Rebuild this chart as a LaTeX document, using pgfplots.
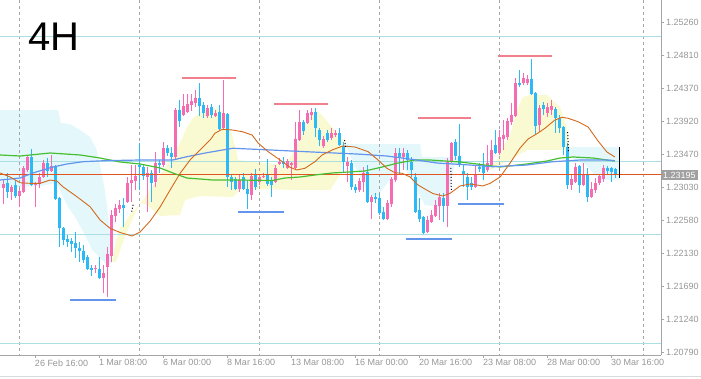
\documentclass[border=0pt]{standalone}
\usepackage{fontspec}
\setmainfont{Liberation Sans}
\usepackage{pgfplots}
\usepackage{pgfplotstable}
\pgfplotsset{compat=1.18}

\definecolor{bull}{RGB}{245,108,178}
\definecolor{bear}{RGB}{45,185,245}
\definecolor{magreen}{RGB}{70,190,50}
\definecolor{mablue}{RGB}{100,149,237}
\definecolor{maorange}{RGB}{210,105,30}
\definecolor{pricecol}{RGB}{225,85,35}
\definecolor{redseg}{RGB}{240,128,140}
\definecolor{blueseg}{RGB}{100,149,237}
\definecolor{hline}{RGB}{170,224,228}
\definecolor{cloudcyan}{RGB}{228,248,252}
\definecolor{cloudyellow}{RGB}{250,250,210}
\definecolor{gridgray}{RGB}{165,165,165}
\definecolor{axgray}{RGB}{165,165,165}
\definecolor{tickgray}{RGB}{150,150,150}
\definecolor{boxgray}{RGB}{160,160,160}

% k open high low close  (bullish candles)
\pgfplotstableread{
k o h l c
0 1.23018 1.23126 1.22801 1.23072
2 1.22963 1.23058 1.22855 1.23031
4 1.22909 1.23018 1.22760 1.22977
5 1.22963 1.23316 1.22950 1.23289
6 1.23262 1.23451 1.23234 1.23438
8 1.23058 1.23099 1.22760 1.23085
9 1.23072 1.23221 1.23018 1.23167
10 1.23167 1.23397 1.23153 1.23356
12 1.23248 1.23465 1.23234 1.23316
23 1.21920 1.21974 1.21866 1.21934
25 1.21798 1.21974 1.21595 1.21866
26 1.21947 1.22218 1.21541 1.22123
27 1.22096 1.22720 1.22015 1.22652
28 1.22638 1.22801 1.22557 1.22747
29 1.22733 1.22855 1.22679 1.22787
31 1.22828 1.23167 1.22814 1.23085
32 1.23085 1.23329 1.22828 1.23126
33 1.23112 1.23329 1.22991 1.23180
36 1.23167 1.23302 1.22692 1.23221
38 1.23099 1.23505 1.23031 1.23356
40 1.23329 1.23641 1.23302 1.23560
43 1.23438 1.24102 1.23397 1.24075
45 1.24007 1.24291 1.23993 1.24129
46 1.24047 1.24291 1.24034 1.24156
47 1.24142 1.24291 1.24061 1.24196
48 1.24169 1.24346 1.24115 1.24237
51 1.23993 1.24142 1.23966 1.24102
53 1.23993 1.24075 1.23980 1.24034
55 1.23831 1.24481 1.23817 1.24034
59 1.23004 1.23194 1.22963 1.23126
62 1.22923 1.23221 1.22855 1.23180
64 1.23099 1.23194 1.23058 1.23167
65 1.23167 1.23221 1.23153 1.23180
68 1.23099 1.23329 1.23085 1.23289
69 1.23343 1.23424 1.23329 1.23370
71 1.23289 1.23411 1.23275 1.23383
72 1.23329 1.23370 1.23126 1.23356
73 1.23289 1.23912 1.23262 1.23682
74 1.23668 1.24075 1.23654 1.23912
76 1.23898 1.24075 1.23885 1.24034
77 1.24007 1.24102 1.23939 1.24047
80 1.23587 1.23722 1.23560 1.23682
82 1.23695 1.23831 1.23668 1.23763
83 1.23736 1.23804 1.23709 1.23763
86 1.23316 1.23438 1.23099 1.23370
89 1.22991 1.23153 1.22963 1.23112
90 1.23099 1.23302 1.22963 1.23221
92 1.22828 1.22923 1.22598 1.22896
96 1.22598 1.22855 1.22584 1.22814
97 1.22801 1.23167 1.22760 1.23140
98 1.23126 1.23560 1.23099 1.23492
100 1.23438 1.23560 1.23262 1.23492
106 1.22421 1.22638 1.22408 1.22584
107 1.22557 1.22720 1.22543 1.22652
108 1.22638 1.22855 1.22625 1.22787
109 1.22774 1.22950 1.22584 1.22896
111 1.22774 1.23424 1.22489 1.23370
112 1.23370 1.23641 1.23356 1.23627
118 1.23031 1.23316 1.23018 1.23194
121 1.23262 1.23600 1.23234 1.23356
122 1.23329 1.23668 1.23302 1.23533
124 1.23492 1.23804 1.23465 1.23709
125 1.23682 1.23939 1.23533 1.23736
126 1.23709 1.23966 1.23668 1.23925
127 1.23912 1.24169 1.23871 1.24007
128 1.23993 1.24508 1.23980 1.24440
130 1.24440 1.24576 1.24413 1.24508
131 1.24440 1.24549 1.24413 1.24495
134 1.23871 1.24142 1.23776 1.24102
136 1.24034 1.24169 1.23980 1.24115
137 1.24075 1.24210 1.24007 1.24129
142 1.23058 1.23194 1.22991 1.23140
143 1.23099 1.23356 1.23085 1.23302
145 1.23058 1.23356 1.23045 1.23194
147 1.22896 1.23099 1.22882 1.23004
148 1.22991 1.23153 1.22950 1.23085
149 1.23085 1.23194 1.23058 1.23180
150 1.23140 1.23329 1.23099 1.23289
}\bulltab

% k open high low close  (bearish candles)
\pgfplotstableread{
k o h l c
1 1.23085 1.23221 1.22882 1.22963
3 1.23058 1.23126 1.22882 1.22909
7 1.23438 1.23546 1.23045 1.23058
11 1.23356 1.23424 1.23167 1.23248
13 1.23316 1.23329 1.22855 1.22869
14 1.22882 1.22896 1.22218 1.22476
15 1.22476 1.22489 1.22245 1.22313
16 1.22327 1.22381 1.22218 1.22286
17 1.22299 1.22340 1.22150 1.22259
18 1.22272 1.22421 1.22069 1.22205
19 1.22205 1.22286 1.22015 1.22164
20 1.22164 1.22245 1.22001 1.22042
21 1.22083 1.22110 1.21907 1.21920
22 1.21934 1.21974 1.21825 1.21907
24 1.21920 1.22083 1.21785 1.21798
30 1.22787 1.22882 1.22489 1.22747
34 1.23329 1.23627 1.22991 1.23302
35 1.23302 1.23329 1.23126 1.23180
37 1.23221 1.23262 1.22828 1.23085
39 1.23356 1.23397 1.23221 1.23329
41 1.23560 1.23600 1.23451 1.23492
42 1.23492 1.23573 1.23289 1.23438
44 1.24075 1.24210 1.23844 1.23925
49 1.24237 1.24440 1.23993 1.24129
50 1.24142 1.24183 1.23966 1.24034
52 1.24115 1.24156 1.23966 1.24007
54 1.24047 1.24142 1.23804 1.23817
56 1.24020 1.24034 1.23031 1.23167
57 1.23167 1.23194 1.22991 1.23099
58 1.23140 1.23167 1.22991 1.23004
60 1.23167 1.23221 1.22991 1.23004
61 1.23004 1.23126 1.22733 1.22936
63 1.23194 1.23275 1.22991 1.23031
66 1.23194 1.23411 1.23045 1.23072
67 1.23112 1.23167 1.22896 1.23058
70 1.23370 1.23438 1.23289 1.23343
75 1.23912 1.23939 1.23736 1.23790
78 1.24047 1.24102 1.23709 1.23831
79 1.23804 1.23831 1.23587 1.23668
81 1.23763 1.23804 1.23641 1.23668
84 1.23763 1.23831 1.23587 1.23600
85 1.23587 1.23641 1.23221 1.23370
87 1.23356 1.23397 1.22991 1.23031
88 1.23031 1.23072 1.22950 1.22991
91 1.23234 1.23329 1.22814 1.22828
93 1.22896 1.22950 1.22814 1.22869
94 1.22882 1.22950 1.22652 1.22679
95 1.22692 1.22760 1.22584 1.22598
99 1.23492 1.23560 1.23194 1.23438
101 1.23492 1.23533 1.23262 1.23397
102 1.23370 1.23438 1.23167 1.23262
103 1.23167 1.23221 1.22679 1.22692
104 1.22720 1.22882 1.22557 1.22598
105 1.22625 1.22638 1.22394 1.22408
110 1.22882 1.22950 1.22557 1.22774
113 1.23641 1.23682 1.23397 1.23451
114 1.23451 1.23885 1.23302 1.23329
115 1.23248 1.23329 1.23031 1.23207
116 1.23167 1.23221 1.22855 1.23031
117 1.23085 1.23167 1.22991 1.23031
119 1.23302 1.23356 1.23234 1.23275
120 1.23329 1.23492 1.23126 1.23221
123 1.23600 1.23804 1.23478 1.23492
129 1.24440 1.24617 1.24386 1.24413
132 1.24495 1.24766 1.24278 1.24291
133 1.24305 1.24318 1.23736 1.23858
135 1.24142 1.24183 1.24007 1.24088
138 1.24088 1.24115 1.23763 1.23966
139 1.23966 1.24007 1.23763 1.23831
140 1.23844 1.23858 1.23465 1.23573
141 1.23573 1.23627 1.23004 1.23058
144 1.23316 1.23329 1.22950 1.23058
146 1.23194 1.23289 1.22828 1.22896
151 1.23289 1.23316 1.23207 1.23248
152 1.23289 1.23302 1.23099 1.23234
153 1.23275 1.23289 1.23153 1.23194
}\beartab

\begin{document}
\begin{tikzpicture}
\begin{axis}[
  name=main,
  at={(0,0)}, anchor=south west,
  scale only axis, width=661pt, height=355pt,
  xmin=-0.825, xmax=164.425, ymin=1.20755, ymax=1.25565,
  axis x line*=bottom, axis y line*=right,
  axis line style={draw=axgray, line width=0.8pt},
  tick align=outside, major tick length=3pt,
  tick style={draw=axgray, line width=0.8pt},
  xtick={8,24,40,56,72,88,104,120,136,152},
  xticklabels={26 Feb 16:00,1 Mar 08:00,6 Mar 00:00,8 Mar 16:00,13 Mar 08:00,16 Mar 00:00,20 Mar 16:00,23 Mar 08:00,28 Mar 00:00,30 Mar 16:00},
  ytick={1.20790,1.21240,1.21690,1.22130,1.22580,1.23030,1.23470,1.23920,1.24370,1.24810,1.25260},
  yticklabels={1.20790,1.21240,1.21690,1.22130,1.22580,1.23030,1.23470,1.23920,1.24370,1.24810,1.25260},
  tick label style={font=\fontsize{9}{10}\selectfont, text=tickgray},
  xticklabel style={anchor=north west, inner sep=0pt, xshift=-0.5pt, yshift=-1.5pt},
  yticklabel style={anchor=west, inner xsep=2pt, inner ysep=1.5pt},
  extra y ticks={1.23195},
  extra y tick labels={1.23195},
  extra y tick style={major tick length=0pt, yticklabel style={fill=boxgray, text=white}},
  /pgf/number format/assume math mode=true,
  candle/.style={draw=none, mark=none, forget plot,
    error bars/y dir=plus, error bars/y explicit, error bars/error mark=none},
]
% clouds
\addplot[fill=cloudcyan, draw=none, forget plot] coordinates {(-1,1.24075) (13.68,1.24075) (14.43,1.23898) (16.68,1.23885) (19.18,1.23804) (21.68,1.23709) (23.18,1.23560) (24.18,1.23329) (25.18,1.23058) (25.93,1.22787) (26.68,1.22381) (27.18,1.22015) (26.18,1.21961) (24.18,1.22069) (22.18,1.22178) (20.43,1.22381) (17.93,1.22625) (16.18,1.22760) (14.68,1.22923) (13.43,1.23085) (9.18,1.23045) (-1,1.23018)} -- cycle;
\addplot[fill=cloudyellow, draw=none, forget plot] coordinates {(27.18,1.22015) (28.18,1.22313) (29.18,1.22476) (30.43,1.22557) (31.68,1.22652) (33.93,1.22787) (36.68,1.22991) (39.18,1.23194) (41.68,1.23397) (44.18,1.23627) (45.93,1.23844) (47.43,1.23966) (49.93,1.24075) (52.93,1.24102) (55.43,1.24034) (56.18,1.23898) (57.18,1.23736) (58.18,1.23533) (58.68,1.23397) (62.93,1.23370) (70.43,1.23329) (72.93,1.23533) (74.18,1.23709) (76.18,1.23939) (77.93,1.24075) (79.68,1.24007) (81.68,1.23871) (85.43,1.23641) (85.43,1.23533) (84.18,1.23194) (81.68,1.22991) (74.18,1.22991) (61.68,1.23004) (59.18,1.22991) (57.43,1.22896) (49.18,1.22909) (45.43,1.22855) (44.18,1.22652) (39.18,1.22638) (35.93,1.22787) (34.18,1.22814) (31.68,1.22516) (29.68,1.22245) (28.18,1.22015)} -- cycle;
\addplot[fill=cloudcyan, draw=none, forget plot] coordinates {(84.93,1.23614) (104.18,1.23614) (104.68,1.23438) (114.93,1.23438) (112.93,1.23329) (111.18,1.22991) (109.18,1.22760) (105.43,1.22787) (102.93,1.23031) (100.43,1.23289) (98.68,1.23370) (96.68,1.23126) (94.68,1.22991) (92.93,1.22855) (90.43,1.23031) (89.18,1.23167) (87.18,1.23397) (85.93,1.23560)} -- cycle;
\addplot[fill=cloudyellow, draw=none, forget plot] coordinates {(121.68,1.23289) (123.43,1.23397) (124.93,1.23573) (126.68,1.23736) (128.43,1.24075) (129.93,1.24251) (131.68,1.24278) (135.93,1.24278) (137.18,1.24210) (139.18,1.24115) (140.93,1.23844) (141.43,1.23573) (141.43,1.23533) (130.93,1.23533) (126.68,1.23397) (121.68,1.23262)} -- cycle;
\addplot[fill=cloudcyan, draw=none, forget plot] coordinates {(141.43,1.23573) (154.18,1.23573) (154.18,1.23126) (149.18,1.23126) (147.18,1.23234) (145.43,1.23343) (142.93,1.23397) (141.43,1.23465)} -- cycle;

% vertical dashed grid
\pgfplotsinvokeforeach{4,34,64,94,124,160}{
  \addplot[gridgray, line width=0.8pt, dash pattern=on 3pt off 3pt, forget plot] coordinates {(#1,1.2) (#1,1.26)};
}
% horizontal cyan levels
\pgfplotsinvokeforeach{1.25077,1.23370,1.22394,1.20917}{
  \addplot[hline, line width=1pt, forget plot] coordinates {(-1,#1) (165,#1)};
}

% candles: wicks and bodies
\addplot[candle, error bars/error bar style={line width=1pt, draw=bull}]
  table[x=k, y=l, y error plus expr=\thisrow{h}-\thisrow{l}] {\bulltab};
\addplot[candle, error bars/error bar style={line width=2.8pt, draw=bull}]
  table[x=k, y=o, y error plus expr=\thisrow{c}-\thisrow{o}] {\bulltab};
\addplot[candle, error bars/error bar style={line width=1pt, draw=bear}]
  table[x=k, y=l, y error plus expr=\thisrow{h}-\thisrow{l}] {\beartab};
\addplot[candle, error bars/error bar style={line width=2.8pt, draw=bear}]
  table[x=k, y=c, y error plus expr=\thisrow{o}-\thisrow{c}] {\beartab};

% current price line
\addplot[pricecol, line width=1pt, forget plot] coordinates {(-1,1.23195) (165,1.23195)};

% moving averages
\addplot[magreen, line width=1.2pt, forget plot] coordinates {(-0.8,1.23465) (4.2,1.23451) (11.7,1.23492) (19.2,1.23465) (24.2,1.23424) (29.2,1.23370) (34.2,1.23343) (39.2,1.23289) (42.4,1.23221) (45.9,1.23153) (52.4,1.23126) (59.2,1.23126) (67.2,1.23119) (70.4,1.23153) (74.2,1.23167) (77.9,1.23194) (82.2,1.23221) (90.4,1.23248) (94.7,1.23302) (98.7,1.23356) (102.9,1.23397) (106.7,1.23397) (114.2,1.23370) (118.4,1.23343) (124.2,1.23302) (130.9,1.23343) (135.9,1.23383) (139.2,1.23424) (142.4,1.23438) (147.4,1.23424) (150.9,1.23397) (152.9,1.23383)};
\addplot[mablue, line width=1.2pt, forget plot] coordinates {(-0.8,1.23126) (4.2,1.23153) (7.4,1.23221) (9.9,1.23262) (12.4,1.23302) (15.9,1.23343) (19.9,1.23374) (25.4,1.23388) (34.2,1.23397) (42.4,1.23397) (45.9,1.23442) (50.9,1.23496) (57.4,1.23556) (66.7,1.23533) (75.9,1.23509) (88.4,1.23478) (95.9,1.23451) (103.4,1.23397) (108.4,1.23356) (116.7,1.23329) (122.4,1.23306) (130.9,1.23329) (137.4,1.23374) (144.2,1.23397) (150.9,1.23397) (152.9,1.23388)};
\addplot[maorange, line width=0.9pt, forget plot] coordinates {(-0.8,1.23221) (1.7,1.23167) (4.2,1.23089) (6.7,1.23081) (9.2,1.23081) (11.7,1.23126) (13.4,1.23112) (14.9,1.23035) (18.4,1.22900) (21.7,1.22764) (24.2,1.22584) (26.7,1.22471) (29.2,1.22415) (32.2,1.22367) (34.2,1.22421) (36.7,1.22570) (39.2,1.22760) (41.7,1.22991) (44.2,1.23217) (46.7,1.23397) (49.2,1.23533) (51.7,1.23668) (52.9,1.23759) (54.7,1.23813) (57.2,1.23804) (59.7,1.23781) (62.2,1.23736) (63.7,1.23627) (66.2,1.23510) (69.2,1.23397) (71.7,1.23298) (73.4,1.23262) (75.4,1.23285) (77.9,1.23374) (79.7,1.23465) (82.2,1.23533) (84.9,1.23587) (87.9,1.23573) (91.2,1.23510) (93.7,1.23397) (95.9,1.23285) (97.9,1.23225) (99.7,1.23217) (101.7,1.23167) (103.7,1.23058) (105.4,1.23004) (107.4,1.22943) (109.9,1.22909) (111.7,1.22946) (114.2,1.23045) (116.7,1.23072) (118.4,1.23058) (119.9,1.23045) (121.7,1.23081) (124.2,1.23167) (126.7,1.23356) (129.2,1.23560) (131.2,1.23682) (133.7,1.23763) (135.4,1.23827) (137.9,1.23939) (139.7,1.23976) (141.2,1.23962) (143.7,1.23916) (146.2,1.23844) (148.7,1.23654) (150.9,1.23505) (152.9,1.23438)};

% resistance (red) and support (blue) marks
\addplot[redseg, line width=2pt, forget plot] coordinates {(44.7,1.24512) (58.2,1.24512)};
\addplot[redseg, line width=2pt, forget plot] coordinates {(67.7,1.24160) (81.2,1.24160)};
\addplot[redseg, line width=2pt, forget plot] coordinates {(103.7,1.23962) (116.9,1.23962)};
\addplot[redseg, line width=2pt, forget plot] coordinates {(123.7,1.24810) (137.2,1.24810)};
\addplot[blueseg, line width=2pt, forget plot] coordinates {(16.7,1.21504) (28.2,1.21504)};
\addplot[blueseg, line width=2pt, forget plot] coordinates {(58.7,1.22692) (70.2,1.22692)};
\addplot[blueseg, line width=2pt, forget plot] coordinates {(100.7,1.22327) (112.2,1.22327)};
\addplot[blueseg, line width=2pt, forget plot] coordinates {(113.7,1.22801) (125.2,1.22801)};

% small black dotted markers
\addplot[black, line width=1pt, dash pattern=on 1pt off 2pt, forget plot] coordinates {(32.1,1.22697) (32.5,1.22801)};
\addplot[black, line width=1pt, dash pattern=on 1pt off 2pt, forget plot] coordinates {(85.3,1.23668) (85.6,1.23573)};
\addplot[black, line width=1pt, dash pattern=on 1pt off 2pt, forget plot] coordinates {(111.9,1.23289) (112.0,1.22991)};
\addplot[black, line width=1pt, dash pattern=on 1pt off 2pt, forget plot] coordinates {(141.1,1.23776) (141.3,1.23492)};
% current bar marker
\addplot[black, line width=1.5pt, forget plot] coordinates {(154.0,1.23569) (154.0,1.23149)};

\node[anchor=north east, inner sep=0pt, font=\fontsize{9}{10}\selectfont, text=tickgray, yshift=-1.5pt] at (xticklabel cs:0.0371) {00:00};
\end{axis}
\node[anchor=base west, inner sep=0pt, font=\fontsize{40}{40}\selectfont] at (28pt,304pt) {4H};
\draw[black!15, line width=1pt] (0,-21.5pt) -- (701pt,-21.5pt);
\pgfresetboundingbox
\path[use as bounding box] (0,-23pt) rectangle (701pt,355pt);
\end{tikzpicture}
\end{document}
